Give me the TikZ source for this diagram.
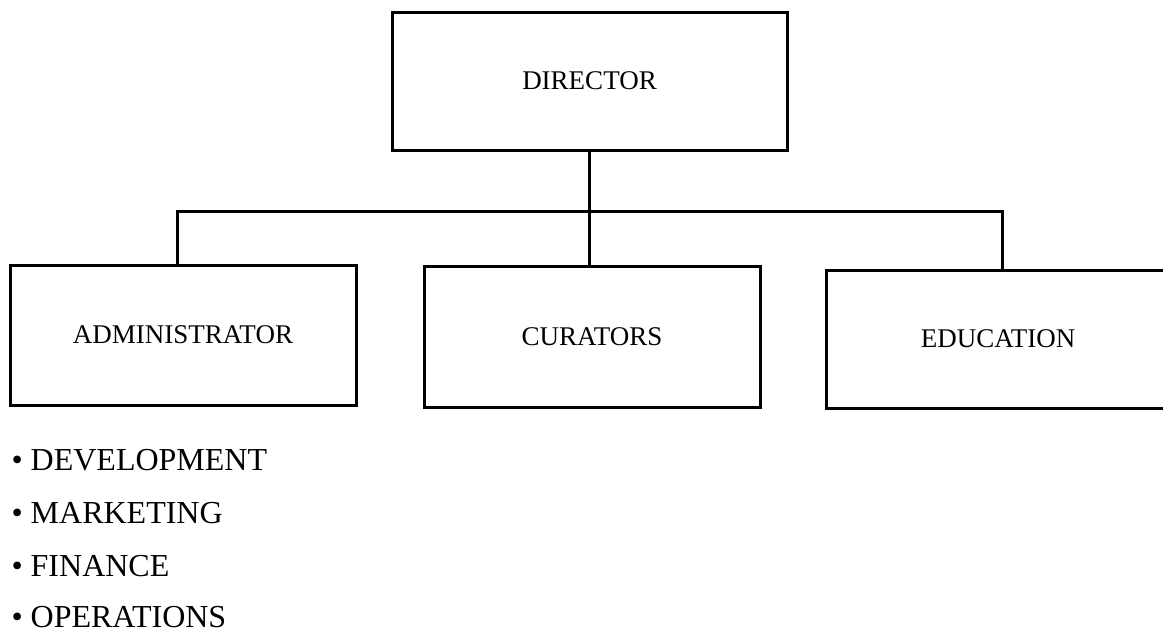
\documentclass[tikz,border=0pt]{standalone}
\usepackage{fontspec}
\setmainfont{Liberation Serif}

\tikzset{every picture/.style={line width=2.25pt}}
\tikzset{orgbox/.style={draw, rectangle, inner sep=0pt, font=\fontsize{20.25}{24}\selectfont},
	listitem/.style={anchor=base west, inner sep=0pt, font=\fontsize{24}{28}\selectfont}}

\begin{document}
\begin{tikzpicture}[x=0.75pt,y=0.75pt,yscale=-1,xscale=1]
		\useasboundingbox (0,0) rectangle (1163,632);
		
		%Shape: Rectangle [id:director]
		\node (dir) [orgbox, minimum width=296.25pt, minimum height=103.5pt] at (589.5,81) {DIRECTOR};
		%Shape: Rectangle [id:administrator]
		\node (adm) [orgbox, minimum width=259.5pt, minimum height=105pt] at (183,335) {ADMINISTRATOR};
		%Shape: Rectangle [id:curators]
		\node (cur) [orgbox, minimum width=252pt, minimum height=105.75pt] at (592,336.5) {CURATORS};
		%Shape: Rectangle [id:education]
		\node (edu) [orgbox, minimum width=258pt, minimum height=103.5pt] at (998,339) {EDUCATION};
		
		\coordinate (busL) at (177,211);
		\coordinate (busR) at (1002,211);
		
		\draw    (dir.south) -- (dir.south |- cur.north) ;
		\draw    (busL |- adm.north) -- (busL) -- (busR) -- (busR |- edu.north) ;
		
		\node (dev) [listitem] at (10,470) {• DEVELOPMENT};
		\node (mkt) [listitem] at (10,523) {• MARKETING};
		\node (fin) [listitem] at (10,576) {• FINANCE};
		\node (ops) [listitem] at (10,627) {• OPERATIONS};
		
	\end{tikzpicture}
\end{document}
